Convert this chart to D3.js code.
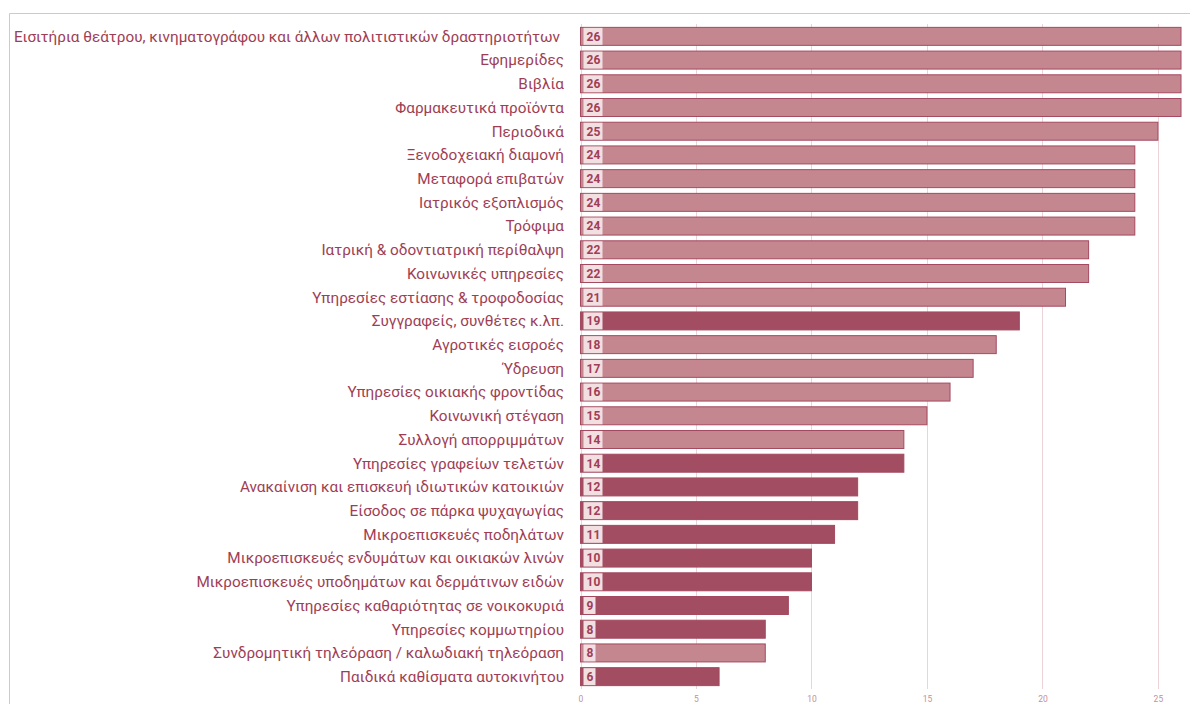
<!DOCTYPE html>
<html><head><meta charset="utf-8">
<script src="https://cdn.jsdelivr.net/npm/d3@7"></script>
<style>body{margin:0;background:#fff;}svg{display:block;}</style>
</head><body><svg id="c" width="1190" height="704"></svg>
<script>
const categories = [
"Εισιτήρια θεάτρου, κινηματογράφου και άλλων πολιτιστικών δραστηριοτήτων",
"Εφημερίδες","Βιβλία","Φαρμακευτικά προϊόντα","Περιοδικά","Ξενοδοχειακή διαμονή",
"Μεταφορά επιβατών","Ιατρικός εξοπλισμός","Τρόφιμα","Ιατρική & οδοντιατρική περίθαλψη",
"Κοινωνικές υπηρεσίες","Υπηρεσίες εστίασης & τροφοδοσίας","Συγγραφείς, συνθέτες κ.λπ.",
"Αγροτικές εισροές","Ύδρευση","Υπηρεσίες οικιακής φροντίδας","Κοινωνική στέγαση",
"Συλλογή απορριμμάτων","Υπηρεσίες γραφείων τελετών","Ανακαίνιση και επισκευή ιδιωτικών κατοικιών",
"Είσοδος σε πάρκα ψυχαγωγίας","Μικροεπισκευές ποδηλάτων","Μικροεπισκευές ενδυμάτων και οικιακών λινών",
"Μικροεπισκευές υποδημάτων και δερμάτινων ειδών","Υπηρεσίες καθαριότητας σε νοικοκυριά",
"Υπηρεσίες κομμωτηρίου","Συνδρομητική τηλεόραση / καλωδιακή τηλεόραση","Παιδικά καθίσματα αυτοκινήτου"
];
const values = [26,26,26,26,25,24,24,24,24,22,22,21,19,18,17,16,15,14,14,12,12,11,10,10,9,8,8,6];
const highlighted = [0,0,0,0,0,0,0,0,0,0,0,0,1,0,0,0,0,0,1,1,1,1,1,1,1,1,0,1];
const ticks = [0,5,10,15,20,25];

const svg = d3.select("#c");
const x = d3.scaleLinear().domain([0,26]).range([580.5,1181]);
const y = d3.scaleBand().domain(categories).range([24.5,688.5]).paddingInner(0.2).paddingOuter(0.1);

// frame
svg.append("line").attr("x1",9.5).attr("x2",1190).attr("y1",13.5).attr("y2",13.5).attr("stroke","#dcc3c9");
svg.append("line").attr("x1",9.5).attr("x2",9.5).attr("y1",13.5).attr("y2",704).attr("stroke","#dcc3c9");

// grid
svg.append("g").selectAll("line").data(ticks).join("line")
  .attr("x1",d=>Math.round(x(d))+0.5).attr("x2",d=>Math.round(x(d))+0.5)
  .attr("y1",24).attr("y2",689).attr("stroke","#ecd3d8").attr("stroke-width",1);

const axis = d3.axisBottom(x).tickValues(ticks).tickSize(0).tickPadding(0);
const ag = svg.append("g").attr("transform","translate(0,696)").call(axis);
ag.select(".domain").remove();
ag.selectAll("text").attr("fill","#c48f9b").attr("font-family","Roboto, sans-serif").attr("font-size",8.5);

// labels
svg.append("g").selectAll("text").data(categories).join("text")
  .attr("x",(d,i)=>i===0?560:564).attr("y",d=>y(d)+y.bandwidth()/2).attr("dy","0.35em")
  .attr("text-anchor","end").attr("fill","#9e3e55")
  .attr("font-family","Roboto, sans-serif").attr("font-size",15.3)
  .text(d=>d);

// bars
const bars = svg.append("g").selectAll("g").data(categories).join("g");
bars.append("rect")
  .attr("x",x(0)).attr("y",d=>y(d)+0.5)
  .attr("width",(d,i)=>x(values[i])-x(0)).attr("height",y.bandwidth()-1)
  .attr("fill",(d,i)=>highlighted[i]?"#a24d61":"#c5878f")
  .attr("stroke","#a4495f").attr("stroke-width",1);
bars.append("rect")
  .attr("x",x(0)+3).attr("y",d=>y(d)+1)
  .attr("width",(d,i)=>String(values[i]).length>1?19:12).attr("height",y.bandwidth()-2)
  .attr("fill","#f1dfe2");
bars.append("text")
  .attr("x",x(0)+6).attr("y",d=>y(d)+y.bandwidth()/2).attr("dy","0.36em")
  .attr("fill","#a13d56").attr("font-family","Roboto, sans-serif").attr("font-weight","bold").attr("font-size",12)
  .text((d,i)=>values[i]);
</script></body></html>
